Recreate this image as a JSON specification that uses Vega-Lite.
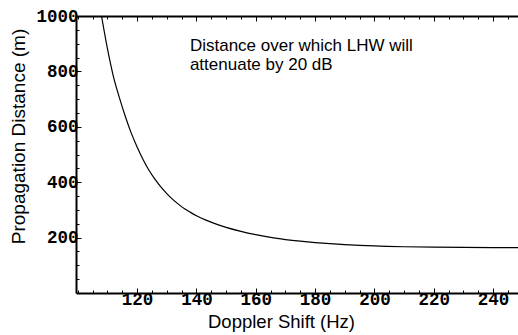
{
  "$schema": "https://vega.github.io/schema/vega-lite/v6.json",
  "width": 442,
  "height": 277,
  "autosize": "none",
  "padding": {"left": 76, "top": 16, "right": 0, "bottom": 42},
  "background": "white",
  "config": {
    "view": {"stroke": null},
    "axis": {
      "grid": false,
      "domainColor": "black",
      "domainWidth": 2,
      "tickColor": "black",
      "tickWidth": 1,
      "labelColor": "black",
      "labelFont": "Liberation Mono",
      "labelFontWeight": "bold",
      "labelFontSize": 17.5,
      "titleColor": "black",
      "titleFont": "Liberation Sans",
      "titleFontWeight": "normal",
      "titleFontSize": 18.5
    }
  },
  "data": {
    "values": [
      {"x": 108, "y": 1000}, {"x": 110, "y": 882}, {"x": 112, "y": 782}, {"x": 114, "y": 706},
      {"x": 116, "y": 638}, {"x": 118, "y": 578}, {"x": 120, "y": 527}, {"x": 122, "y": 482},
      {"x": 124, "y": 443}, {"x": 126, "y": 411}, {"x": 128, "y": 383}, {"x": 130, "y": 359},
      {"x": 132, "y": 338}, {"x": 134, "y": 320}, {"x": 136, "y": 304}, {"x": 138, "y": 291},
      {"x": 140, "y": 279}, {"x": 143, "y": 264}, {"x": 146, "y": 251.5}, {"x": 150, "y": 237},
      {"x": 155, "y": 222.5}, {"x": 160, "y": 210.5}, {"x": 165, "y": 200.5}, {"x": 170, "y": 193},
      {"x": 175, "y": 187}, {"x": 180, "y": 182}, {"x": 185, "y": 178}, {"x": 190, "y": 174.8},
      {"x": 195, "y": 172}, {"x": 200, "y": 169.8}, {"x": 210, "y": 167}, {"x": 220, "y": 165.3},
      {"x": 230, "y": 164.4}, {"x": 240, "y": 163.9}, {"x": 248.4, "y": 163.7}
    ]
  },
  "layer": [
    {
      "mark": {"type": "line", "color": "black", "strokeWidth": 1.2, "interpolate": "monotone", "clip": true},
      "encoding": {
        "x": {
          "field": "x", "type": "quantitative",
          "scale": {"domain": [99.4, 248.4], "nice": false, "zero": false},
          "axis": {
            "orient": "bottom", "values": [120, 140, 160, 180, 200, 220, 240], "format": "d",
            "tickSize": -5, "labelPadding": 2, "title": "Doppler Shift (Hz)",
            "titleX": 205, "titleY": 34.6, "titleAlign": "center", "titleBaseline": "alphabetic"
          }
        },
        "y": {
          "field": "y", "type": "quantitative",
          "scale": {"domain": [0, 1000], "nice": false, "zero": false},
          "axis": {
            "orient": "left", "values": [200, 400, 600, 800, 1000], "format": "d",
            "tickSize": -5, "labelPadding": 3, "title": "Propagation Distance (m)",
            "titleFontSize": 19, "titleX": -52, "titleY": 120, "titleAngle": 270,
            "titleAlign": "center", "titleBaseline": "alphabetic"
          }
        }
      }
    },
    {
      "mark": {"type": "line", "strokeOpacity": 0},
      "encoding": {
        "x": {
          "field": "x", "type": "quantitative",
          "axis": {
            "orient": "bottom",
            "values": [100, 105, 110, 115, 125, 130, 135, 145, 150, 155, 165, 170, 175, 185, 190, 195, 205, 210, 215, 225, 230, 235, 245],
            "tickSize": -3, "labels": false, "domain": false, "title": null
          }
        },
        "y": {
          "field": "y", "type": "quantitative",
          "axis": {
            "orient": "left",
            "values": [50, 100, 150, 250, 300, 350, 450, 500, 550, 650, 700, 750, 850, 900, 950],
            "tickSize": -3, "labels": false, "domain": false, "title": null
          }
        }
      }
    },
    {
      "mark": {"type": "line", "strokeOpacity": 0},
      "encoding": {
        "x": {
          "field": "x", "type": "quantitative",
          "axis": {
            "orient": "top",
            "values": [100, 105, 110, 115, 125, 130, 135, 145, 150, 155, 165, 170, 175, 185, 190, 195, 205, 210, 215, 225, 230, 235, 245],
            "tickSize": -3, "labels": false, "domain": true, "title": null
          }
        },
        "y": {"field": "y", "type": "quantitative", "axis": null}
      }
    },
    {
      "mark": {"type": "line", "strokeOpacity": 0},
      "encoding": {
        "x": {
          "field": "x", "type": "quantitative",
          "axis": {
            "orient": "top", "values": [120, 140, 160, 180, 200, 220, 240],
            "tickSize": -5, "labels": false, "domain": false, "title": null
          }
        },
        "y": {"field": "y", "type": "quantitative", "axis": null}
      }
    },
    {
      "data": {"values": [{"note": "Distance over which LHW will attenuate by 20 dB"}]},
      "mark": {
        "type": "text", "align": "left", "baseline": "alphabetic",
        "font": "Liberation Sans", "fontSize": 17, "lineHeight": 19, "color": "black",
        "text": ["Distance over which LHW will", "attenuate by 20 dB"]
      },
      "encoding": {
        "x": {"datum": 137.8, "type": "quantitative", "axis": null},
        "y": {"datum": 873, "type": "quantitative", "axis": null}
      }
    }
  ],
  "resolve": {"axis": {"x": "independent", "y": "independent"}}
}
